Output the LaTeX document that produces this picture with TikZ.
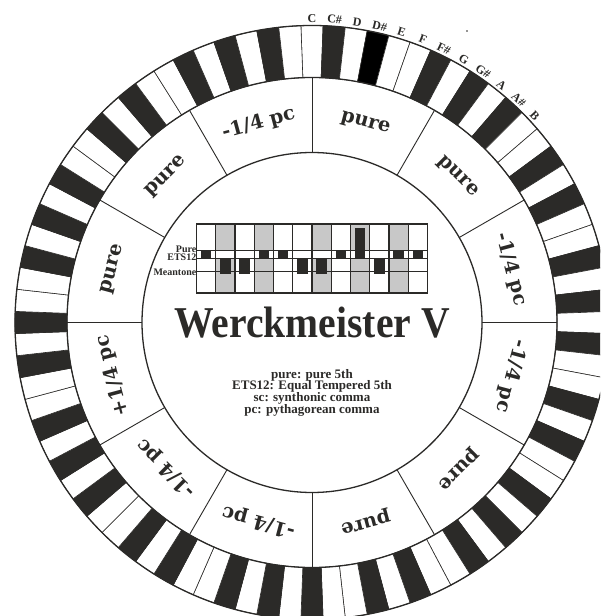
\documentclass[tikz,border=0pt]{standalone}
\usepackage{fontspec}
\setmainfont{Liberation Serif}
\newfontfamily\ringfont{DejaVu Serif}
\definecolor{ink}{HTML}{2B2A28}
\definecolor{colgray}{HTML}{C8C8C8}
\newcommand\qpcm{-1/4 pc}
\newcommand\qpcp{+1/4 pc}
\tikzset{
  ringlbl/.style={font=\ringfont\bfseries\fontsize{19.5}{21}\selectfont, text=ink, inner sep=0pt},
  notelbl/.style={font=\bfseries\fontsize{12}{12}\selectfont, text=ink, inner sep=0pt},
  leglbl/.style={font=\bfseries\fontsize{13}{14}\selectfont, text=ink, inner sep=0pt, anchor=base},
  rowlbl/.style={font=\bfseries\fontsize{10}{10}\selectfont, text=ink, inner sep=0pt, anchor=east},
  thinline/.style={draw=ink, line width=0.9pt},
  gridline/.style={draw=ink, line width=1.2pt}
}
\begin{document}
\begin{tikzpicture}[x=1pt,y=1pt]
\useasboundingbox (-312,-293.5) rectangle (288,322.5);
\clip (-312,-293.5) rectangle (288,322.5);
\fill[white] (-312,-293.5) rectangle (288,322.5);

% keyboard ring: 7 octaves of 12 equal keys
\foreach \o in {0,...,6}{
  \foreach \k/\kcol in {0/white,1/ink,2/white,3/ink,4/white,5/white,6/ink,7/white,8/ink,9/white,10/ink,11/white}{
    \pgfmathtruncatemacro\i{\o*12+\k}
    \pgfmathsetmacro\aa{90-\i*4.2857143+2.1428571}
    \pgfmathsetmacro\ab{90-\i*4.2857143-2.1428571}
    \def\kc{\kcol}
    \ifnum\i=3 \def\kc{black}\fi
    \filldraw[fill=\kc, draw=ink, line width=0.6pt]
      (\aa:245) -- (\aa:297) arc[start angle=\aa, end angle=\ab, radius=297]
      -- (\ab:245) arc[start angle=\ab, end angle=\aa, radius=245] -- cycle;
  }
}

% circles and sector lines
\draw[ink, line width=1.3pt] (0,0) circle[radius=297];
\draw[ink, line width=1.3pt] (0,0) circle[radius=245];
\draw[ink, line width=1.3pt] (0,0) circle[radius=170];
\foreach \a in {0,30,...,330} \draw[thinline] (\a:170) -- (\a:245);

% ring labels
\foreach \a/\t [count=\n] in {75/pure,45/pure,15/\qpcm,-15/\qpcm,-45/pure,-75/pure,-105/\qpcm,-135/\qpcm,195/\qpcp,165/pure,135/pure,105/\qpcm}{
  \node[ringlbl, rotate=\a-90] (ring\n) at (\a:206) {\t};
}

% note names
\foreach \n [count=\j from 0] in {C,C\#,D,D\#,E,F,F\#,G,G\#,A,A\#,B}{
  \pgfmathsetmacro\ac{90-\j*4.2857143}
  \node[notelbl, rotate=\ac-90] (note\j) at (\ac:304) {\n};
}
\fill[ink] (155,291.5) circle[radius=0.8];

% chart
\foreach \c in {1,3,6,8,10} \fill[colgray] (-115.5+\c*19.25,29.5) rectangle (-115.5+\c*19.25+19.25,98.5);
\fill[white] (-115.5,63.8) rectangle (115.5,71.8);
\foreach \ya/\yb [count=\c from 0] in {63.8/71.8,48.2/63.8,48.2/63.8,63.8/71.8,63.8/71.8,48.2/63.8,48.2/63.8,63.8/71.8,63.8/94.2,48.2/63.8,63.8/71.8,63.8/71.8}{
  \pgfmathsetmacro\xl{-115.5+\c*19.25+4.5}
  \pgfmathsetmacro\xr{\xl+10.3}
  \fill[ink] (\xl,\ya) rectangle (\xr,\yb);
}
\foreach \c in {1,...,11} \draw[gridline] (-115.5+\c*19.25,29.5) -- (-115.5+\c*19.25,98.5);
\draw[gridline] (-115.5,71.8) -- (115.5,71.8);
\draw[gridline] (-115.5,63.8) -- (115.5,63.8);
\draw[gridline] (-115.5,50.8) -- (115.5,50.8);
\draw[gridline] (-115.5,29.5) rectangle (115.5,98.5);

\node[rowlbl] (rpure) at (-115.5,73.5) {Pure};
\node[rowlbl] (rets) at (-115.5,65.5) {ETS12};
\node[rowlbl] (rmean) at (-115.5,50) {Meantone};

% title
\node[font=\bfseries\fontsize{44}{44}\selectfont, text=ink, inner sep=0pt, anchor=base] (title) at (0,-14.5) {\scalebox{0.9}[1]{Werckmeister V}};

% legend
\node[leglbl] (leg1) at (0,-55.5) {pure: pure 5th};
\node[leglbl] (leg2) at (0,-67.2) {ETS12: Equal Tempered 5th};
\node[leglbl] (leg3) at (0,-78.9) {sc: synthonic comma};
\node[leglbl] (leg4) at (0,-90.6) {pc: pythagorean comma};
\end{tikzpicture}
\end{document}
